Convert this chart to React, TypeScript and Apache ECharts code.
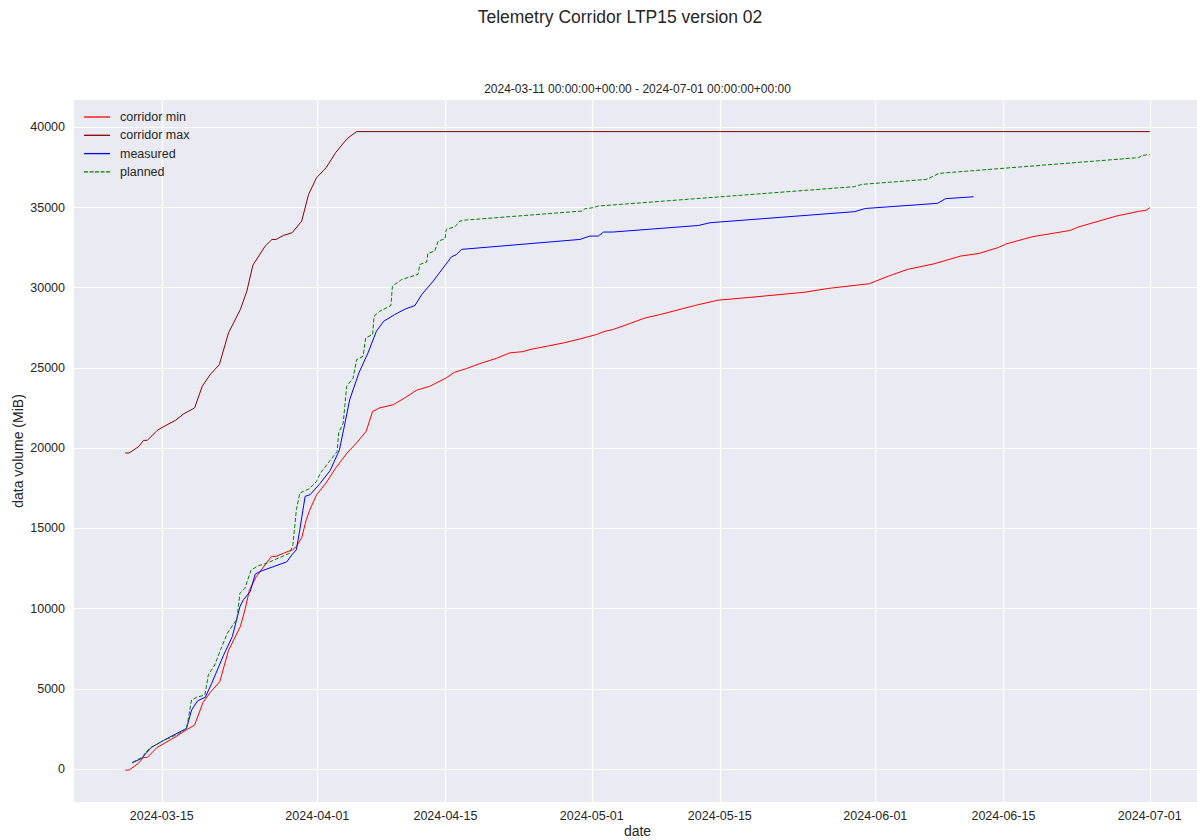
import React, { useEffect, useRef } from "react";
import * as echarts from "echarts";

const TITLE = "Telemetry Corridor LTP15 version 02";
const SUBTITLE = "2024-03-11 00:00:00+00:00 - 2024-07-01 00:00:00+00:00";

const xTickDates = ["2024-03-15", "2024-04-01", "2024-04-15", "2024-05-01", "2024-05-15", "2024-06-01", "2024-06-15", "2024-07-01"];
const yTickValues = [0, 5000, 10000, 15000, 20000, 25000, 30000, 35000, 40000];

const maxDates = [
  "2024-03-11 00:00", "2024-03-11 10:00", "2024-03-12 12:00", "2024-03-13 00:00", "2024-03-13 10:00",
  "2024-03-14 12:00", "2024-03-15 00:00", "2024-03-16 12:00", "2024-03-17 10:00", "2024-03-18 14:00",
  "2024-03-19 10:00", "2024-03-20 07:00", "2024-03-21 07:00", "2024-03-22 07:00", "2024-03-23 14:00",
  "2024-03-24 07:00", "2024-03-24 23:00", "2024-03-26 07:00", "2024-03-27 01:00", "2024-03-27 12:00",
  "2024-03-28 07:00", "2024-03-29 06:00", "2024-03-30 07:00", "2024-03-31 01:00", "2024-03-31 22:00",
  "2024-04-01 23:00", "2024-04-03 00:00", "2024-04-04 06:00", "2024-04-05 07:00", "2024-07-01 00:00",
];
const maxValues = [
  19700, 19700, 20110, 20490, 20490,
  21110, 21280, 21740, 22150, 22510,
  23860, 24590, 25210, 27190, 28640,
  29780, 31410, 32590, 33010, 33010,
  33260, 33430, 34150, 35820, 36860,
  37480, 38420, 39290, 39730, 39730,
];

const minDates = [
  "2024-03-11 00:00", "2024-03-11 10:00", "2024-03-12 11:00", "2024-03-13 00:00", "2024-03-13 10:00",
  "2024-03-14 11:00", "2024-03-16 12:00", "2024-03-17 18:00", "2024-03-18 14:00", "2024-03-19 12:00",
  "2024-03-20 07:00", "2024-03-21 08:00", "2024-03-22 07:00", "2024-03-23 14:00", "2024-03-24 02:00",
  "2024-03-24 14:00", "2024-03-25 08:00", "2024-03-26 10:00", "2024-03-27 00:00", "2024-03-27 12:00",
  "2024-03-28 10:00", "2024-03-29 07:00", "2024-03-29 17:00", "2024-03-30 07:00", "2024-03-30 19:00",
  "2024-03-31 04:00", "2024-03-31 22:00", "2024-04-01 23:00", "2024-04-03 00:00", "2024-04-04 06:00",
  "2024-04-05 07:00", "2024-04-06 08:00", "2024-04-07 01:00", "2024-04-07 19:00", "2024-04-09 07:00",
  "2024-04-10 13:00", "2024-04-11 20:00", "2024-04-13 07:00", "2024-04-15 02:00", "2024-04-16 00:00",
  "2024-04-17 07:00", "2024-04-18 18:00", "2024-04-20 14:00", "2024-04-22 01:00", "2024-04-23 12:00",
  "2024-04-24 06:00", "2024-04-26 01:00", "2024-04-27 22:00", "2024-04-29 17:00", "2024-05-01 12:00",
  "2024-05-02 11:00", "2024-05-03 07:00", "2024-05-05 04:00", "2024-05-06 20:00", "2024-05-08 12:00",
  "2024-05-12 06:00", "2024-05-14 18:00", "2024-05-18 12:00", "2024-05-24 07:00", "2024-05-26 18:00",
  "2024-05-31 08:00", "2024-06-02 10:00", "2024-06-04 12:00", "2024-06-07 10:00", "2024-06-10 07:00",
  "2024-06-12 08:00", "2024-06-14 11:00", "2024-06-15 06:00", "2024-06-18 04:00", "2024-06-22 07:00",
  "2024-06-23 04:00", "2024-06-27 07:00", "2024-06-29 19:00", "2024-06-30 14:00", "2024-07-01 00:00",
];
const minValues = [
  -60, -60, 370, 728, 728,
  1340, 2010, 2470, 2746, 4150,
  4780, 5450, 7400, 8880, 9920,
  11170, 12000, 12830, 13260, 13260,
  13480, 13670, 13870, 14420, 15540,
  16140, 17100, 17830, 18760, 19700,
  20330, 21050, 22290, 22510, 22710,
  23130, 23610, 23860, 24380, 24730,
  24960, 25270, 25600, 25940, 26020,
  26150, 26350, 26560, 26810, 27080,
  27290, 27390, 27770, 28120, 28330,
  28890, 29220, 29410, 29720, 29950,
  30250, 30720, 31140, 31490, 31970,
  32140, 32510, 32720, 33180, 33570,
  33780, 34460, 34760, 34820, 34990,
];

const measuredDates = [
  "2024-03-11 18:00", "2024-03-12 19:00", "2024-03-13 20:00", "2024-03-15 07:00", "2024-03-17 17:00",
  "2024-03-18 06:00", "2024-03-18 22:00", "2024-03-19 18:00", "2024-03-20 11:00", "2024-03-21 18:00",
  "2024-03-22 17:00", "2024-03-23 13:00", "2024-03-23 22:00", "2024-03-24 16:00", "2024-03-25 05:00",
  "2024-03-25 17:00", "2024-03-28 16:00", "2024-03-29 05:00", "2024-03-29 17:00", "2024-03-30 02:00",
  "2024-03-30 16:00", "2024-03-31 05:00", "2024-04-01 07:00", "2024-04-02 10:00", "2024-04-03 10:00",
  "2024-04-04 00:00", "2024-04-04 13:00", "2024-04-05 13:00", "2024-04-06 13:00", "2024-04-07 11:00",
  "2024-04-08 06:00", "2024-04-09 11:00", "2024-04-10 16:00", "2024-04-11 16:00", "2024-04-12 10:00",
  "2024-04-13 16:00", "2024-04-15 16:00", "2024-04-16 05:00", "2024-04-16 18:00", "2024-04-29 17:00",
  "2024-04-30 19:00", "2024-05-01 17:00", "2024-05-02 07:00", "2024-05-03 07:00", "2024-05-12 16:00",
  "2024-05-13 22:00", "2024-05-29 17:00", "2024-05-30 22:00", "2024-06-07 19:00", "2024-06-08 16:00",
  "2024-06-11 18:00",
];
const measuredValues = [
  390, 665, 1350, 1820, 2540,
  3680, 4260, 4480, 5350, 7100,
  8260, 10130, 10550, 11070, 12150,
  12310, 12920, 13350, 13670, 14910,
  17000, 17100, 17800, 18620, 19900,
  21500, 23030, 24690, 25940, 27290,
  27910, 28330, 28690, 28890, 29580,
  30410, 31930, 32070, 32390, 33010,
  33220, 33220, 33470, 33470, 33880,
  34050, 34740, 34940, 35260, 35550,
  35670,
];

const plannedDates = [
  "2024-03-11 19:00", "2024-03-12 23:00", "2024-03-13 04:00", "2024-03-13 20:00", "2024-03-15 07:00",
  "2024-03-16 19:00", "2024-03-17 17:00", "2024-03-18 06:00", "2024-03-18 19:00", "2024-03-19 17:00",
  "2024-03-20 02:00", "2024-03-20 19:00", "2024-03-21 10:00", "2024-03-22 04:00", "2024-03-23 05:00",
  "2024-03-23 13:00", "2024-03-24 02:00", "2024-03-24 18:00", "2024-03-25 12:00", "2024-03-26 11:00",
  "2024-03-29 00:00", "2024-03-29 08:00", "2024-03-29 17:00", "2024-03-30 02:00", "2024-03-30 12:00",
  "2024-03-31 02:00", "2024-03-31 22:00", "2024-04-01 08:00", "2024-04-03 04:00", "2024-04-03 08:00",
  "2024-04-03 20:00", "2024-04-04 05:00", "2024-04-04 22:00", "2024-04-05 07:00", "2024-04-06 00:00",
  "2024-04-06 07:00", "2024-04-07 01:00", "2024-04-07 05:00", "2024-04-07 20:00", "2024-04-09 01:00",
  "2024-04-09 05:00", "2024-04-10 05:00", "2024-04-12 00:00", "2024-04-12 05:00", "2024-04-12 23:00",
  "2024-04-13 02:00", "2024-04-13 20:00", "2024-04-14 05:00", "2024-04-14 23:00", "2024-04-15 02:00",
  "2024-04-16 01:00", "2024-04-16 14:00", "2024-04-17 02:00", "2024-04-29 22:00", "2024-04-30 06:00",
  "2024-05-01 04:00", "2024-05-01 17:00", "2024-05-29 17:00", "2024-05-30 12:00", "2024-06-06 13:00",
  "2024-06-07 05:00", "2024-06-08 00:00", "2024-06-29 19:00", "2024-06-30 05:00", "2024-07-01 00:00",
];
const plannedValues = [
  420, 770, 1020, 1350, 1810,
  2180, 2540, 4310, 4470, 4620,
  5870, 6490, 7430, 8470, 9350,
  10960, 11270, 12400, 12660, 12830,
  13460, 13980, 16160, 17200, 17310,
  17460, 17930, 18450, 19800, 20950,
  21570, 23860, 24380, 25520, 25730,
  26880, 27080, 28230, 28540, 28890,
  30100, 30510, 30830, 31450, 31600,
  32140, 32280, 32910, 33050, 33630,
  33800, 34150, 34210, 34780, 34920,
  34990, 35090, 36300, 36440, 36750,
  36920, 37130, 38110, 38250, 38300,
];

const parseT = (s: string) => new Date(s.replace(" ", "T") + ":00").getTime();
const pairs = (dates: string[], values: number[]) => dates.map((d, i) => [parseT(d), values[i]]);
const pad = (n: number) => (n < 10 ? "0" + n : "" + n);

const SOLID_ICON = "path://M0,0h26v1.3h-26z";
const DASH_ICON = "path://M0,0h4v1.3h-4zM5.5,0h4v1.3h-4zM11,0h4v1.3h-4zM16.5,0h4v1.3h-4zM22,0h4v1.3h-4z";

export default function App() {
  const ref = useRef<HTMLDivElement>(null);
  useEffect(() => {
    document.body.style.margin = "0";
    const chart = echarts.init(ref.current!, null, { renderer: "svg" });
    const font = "'Liberation Sans', Arial, sans-serif";
    const txt = "#262626";
    const plotLeft = 74;
    const plotTop = 100;
    const plotW = 1127;
    const plotH = 702;
    const xTicks = xTickDates.map((d) => parseT(d + " 00:00"));
    chart.setOption({
      animation: false,
      backgroundColor: "#ffffff",
      textStyle: { fontFamily: font },
      graphic: [
        {
          type: "text",
          x: 620,
          y: 17,
          style: { text: TITLE, fill: txt, font: `17.5px ${font}`, align: "center", verticalAlign: "middle" },
        },
        {
          type: "text",
          x: plotLeft + plotW / 2,
          y: 89,
          style: { text: SUBTITLE, fill: txt, font: `12px ${font}`, align: "center", verticalAlign: "middle" },
        },
      ],
      legend: {
        orient: "vertical",
        left: 84,
        top: 110.5,
        itemWidth: 26,
        itemHeight: 14,
        itemGap: 5.3,
        padding: 0,
        textStyle: { fontSize: 12.5, color: txt, fontFamily: font, padding: [0, 0, 0, 5] },
        data: [
          { name: "corridor min", icon: SOLID_ICON, itemStyle: { color: "#ff0000" } },
          { name: "corridor max", icon: SOLID_ICON, itemStyle: { color: "#8b0000" } },
          { name: "measured", icon: SOLID_ICON, itemStyle: { color: "#0000ff" } },
          { name: "planned", icon: DASH_ICON, itemStyle: { color: "#008000" } },
        ],
      },
      grid: {
        left: plotLeft,
        top: plotTop,
        width: plotW,
        height: plotH,
        show: true,
        backgroundColor: "#eaeaf2",
        borderWidth: 0,
        outerBoundsMode: "none",
        containLabel: false,
      },
      xAxis: {
        type: "value",
        min: parseT("2024-03-05 09:36"),
        max: parseT("2024-07-06 14:24"),
        name: "date",
        nameLocation: "middle",
        nameGap: 22,
        nameMoveOverlap: false,
        nameTextStyle: { fontSize: 14, color: txt, fontFamily: font },
        axisLine: { show: false },
        axisTick: { show: false, customValues: xTicks },
        axisLabel: {
          customValues: xTicks,
          fontSize: 12.5,
          color: txt,
          fontFamily: font,
          margin: 7,
          formatter: (v: number) => {
            const d = new Date(v);
            return `${d.getFullYear()}-${pad(d.getMonth() + 1)}-${pad(d.getDate())}`;
          },
        },
        splitLine: { show: true, lineStyle: { color: "#ffffff", width: 1.2 } },
      },
      yAxis: {
        type: "value",
        min: -2050,
        max: 41700,
        name: "data volume (MiB)",
        nameLocation: "middle",
        nameGap: 49,
        nameMoveOverlap: false,
        nameTextStyle: { fontSize: 14, color: txt, fontFamily: font },
        axisLine: { show: false },
        axisTick: { show: false, customValues: yTickValues },
        axisLabel: {
          customValues: yTickValues,
          fontSize: 12.5,
          color: txt,
          fontFamily: font,
          margin: 9,
          formatter: (v: number) => String(v),
        },
        splitLine: { show: true, lineStyle: { color: "#ffffff", width: 1.2 } },
      },
      series: [
        {
          name: "corridor min",
          type: "line",
          symbol: "none",
          data: pairs(minDates, minValues),
          lineStyle: { color: "#ff0000", width: 1 },
          itemStyle: { color: "#ff0000" },
        },
        {
          name: "corridor max",
          type: "line",
          symbol: "none",
          data: pairs(maxDates, maxValues),
          lineStyle: { color: "#8b0000", width: 1 },
          itemStyle: { color: "#8b0000" },
        },
        {
          name: "measured",
          type: "line",
          symbol: "none",
          data: pairs(measuredDates, measuredValues),
          lineStyle: { color: "#0000ff", width: 1 },
          itemStyle: { color: "#0000ff" },
        },
        {
          name: "planned",
          type: "line",
          symbol: "none",
          data: pairs(plannedDates, plannedValues),
          lineStyle: { color: "#008000", width: 1, type: [4, 2] },
          itemStyle: { color: "#008000" },
        },
      ],
    });
    return () => chart.dispose();
  }, []);
  return <div ref={ref} style={{ width: 1197, height: 840 }} />;
}
